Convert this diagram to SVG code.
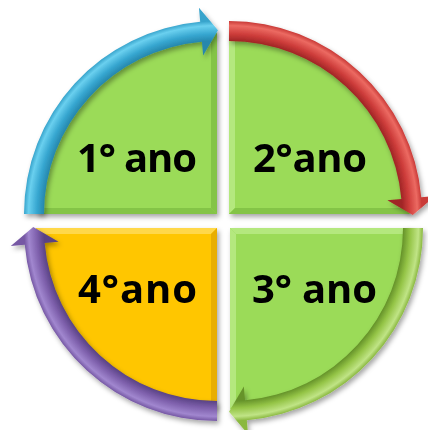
<svg xmlns="http://www.w3.org/2000/svg" width="428" height="430" viewBox="0 0 428 430">
  <defs>
    <filter id="shadow" x="-10%" y="-10%" width="125%" height="125%">
      <feDropShadow dx="2" dy="3" stdDeviation="2.5" flood-color="#000" flood-opacity="0.35"/>
    </filter>
    <radialGradient id="gBlue" gradientUnits="userSpaceOnUse" cx="217" cy="214" r="207">
      <stop offset="0.768" stop-color="#2687ad"/>
      <stop offset="0.836" stop-color="#2687ad"/>
      <stop offset="0.87" stop-color="#36a6d0"/>
      <stop offset="0.91" stop-color="#6ad0ef"/>
      <stop offset="0.932" stop-color="#38a4cc"/>
      <stop offset="1" stop-color="#38a4cc"/>
    </radialGradient>
    <radialGradient id="gRed" gradientUnits="userSpaceOnUse" cx="229" cy="214" r="207">
      <stop offset="0.768" stop-color="#a02526"/>
      <stop offset="0.836" stop-color="#a02526"/>
      <stop offset="0.87" stop-color="#cd3c3a"/>
      <stop offset="0.91" stop-color="#ec6a62"/>
      <stop offset="0.932" stop-color="#c93a37"/>
      <stop offset="1" stop-color="#c93a37"/>
    </radialGradient>
    <radialGradient id="gGreen" gradientUnits="userSpaceOnUse" cx="230" cy="228" r="207">
      <stop offset="0.768" stop-color="#66932a"/>
      <stop offset="0.836" stop-color="#66932a"/>
      <stop offset="0.87" stop-color="#94c446"/>
      <stop offset="0.91" stop-color="#c0e486"/>
      <stop offset="0.932" stop-color="#8ab840"/>
      <stop offset="1" stop-color="#8ab840"/>
    </radialGradient>
    <radialGradient id="gPurple" gradientUnits="userSpaceOnUse" cx="217" cy="228" r="207">
      <stop offset="0.768" stop-color="#5a4385"/>
      <stop offset="0.836" stop-color="#5a4385"/>
      <stop offset="0.87" stop-color="#7d5fab"/>
      <stop offset="0.91" stop-color="#a187cf"/>
      <stop offset="0.932" stop-color="#7658a4"/>
      <stop offset="1" stop-color="#7658a4"/>
    </radialGradient>
  </defs>
  <style>
    .green { fill: #9bdb59; }
    .yellow { fill: #ffc600; }
    .lightG { fill: #b4e87e; }
    .darkG { fill: #84c447; }
    .lightY { fill: #ffd84a; }
    .darkY { fill: #e8ae00; }
    .label { font-family: "Open Sans", "Liberation Sans", sans-serif; font-weight: bold; font-size: 40px; fill: #000; }
  </style>

  <g id="q1" filter="url(#shadow)">
    <path class="green" d="M217,214 L36,214 A181,181 0 0 1 217,33 Z"/>
    <path class="darkG" d="M211,30 L217,33 L217,214 L211,208 Z"/>
    <path class="darkG" d="M40,208 L211,208 L217,214 L36,214 Z"/>
    <text class="label" x="77" y="172" textLength="120">1° ano</text>
  </g>

  <g id="q2" filter="url(#shadow)">
    <path class="green" d="M229,214 L229,33 A181,181 0 0 1 410,214 Z"/>
    <path class="lightG" d="M229,33 L235,37 L235,208 L229,214 Z"/>
    <path class="darkG" d="M235,208 L405,208 L410,214 L229,214 Z"/>
    <text class="label" x="253" y="172" textLength="114">2°ano</text>
  </g>

  <g id="q3" filter="url(#shadow)">
    <path class="green" d="M230,228 L411,228 A181,181 0 0 1 230,409 Z"/>
    <path class="lightG" d="M230,228 L411,228 L405,234 L236,234 Z"/>
    <path class="lightG" d="M230,228 L236,234 L236,403 L230,409 Z"/>
    <text class="label" x="252" y="303" textLength="125">3° ano</text>
  </g>

  <g id="q4" filter="url(#shadow)">
    <path class="yellow" d="M217,228 L217,409 A181,181 0 0 1 36,228 Z"/>
    <path class="lightY" d="M36,228 L217,228 L211,234 L42,234 Z"/>
    <path class="darkY" d="M217,228 L217,409 L211,403 L211,234 Z"/>
    <text class="label" x="78" y="303" textLength="119">4°ano</text>
  </g>

  <g id="connectors" filter="url(#shadow)">
    <path fill="url(#gBlue)" d="M24,214 A193,193 0 0 1 200.18,21.74 L198.96,7.79 L217.99,30.22 L203.14,55.61 L201.92,41.66 A173,173 0 0 0 44,214 Z"/>
    <path fill="url(#gRed)" d="M229,21 A193,193 0 0 1 421.26,197.18 L435.21,195.96 L412.78,214.99 L387.39,200.14 L401.34,198.92 A173,173 0 0 0 229,41 Z"/>
    <path fill="url(#gGreen)" d="M423,228 A193,193 0 0 1 246.82,420.26 L248.04,434.21 L229.01,411.78 L243.86,386.39 L245.08,400.34 A173,173 0 0 0 403,228 Z"/>
    <path fill="url(#gPurple)" d="M217,421 A193,193 0 0 1 24.74,244.82 L10.79,246.04 L33.22,227.01 L58.61,241.86 L44.66,243.08 A173,173 0 0 0 217,401 Z"/>
  </g>
</svg>
